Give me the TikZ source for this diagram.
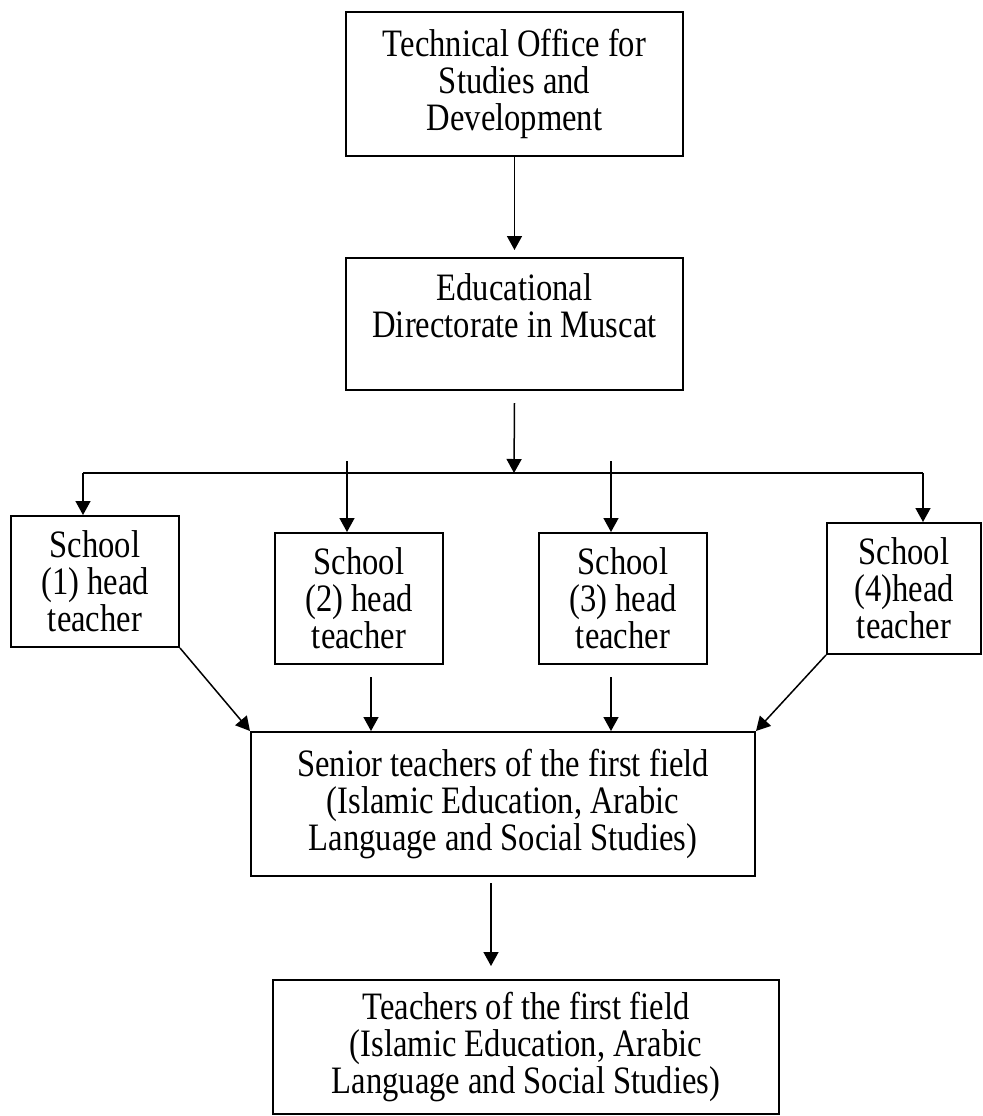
\documentclass[tikz,border=0pt]{standalone}
\usepackage{fontspec}
\setmainfont{Liberation Serif}[FakeStretch=0.84]
\usetikzlibrary{arrows.meta}
\tikzstyle{every path}=[line width=0.75pt]
\tikzstyle{box}=[draw, line width=1pt, align=center, inner sep=0pt,
    font=\fontsize{19.4}{18.5}\selectfont]
\tikzstyle{headbox}=[box, minimum width=84pt, minimum height=65.5pt]
\tikzstyle{arr}=[-{Triangle[length=7pt,width=7.5pt]}]

\begin{document}
\begin{tikzpicture}[x=0.5pt,y=-0.5pt]
            \useasboundingbox (0,0) rectangle (983,1116);

            % top of the chain
            \node[box, minimum width=168.5pt, minimum height=72pt]
                (tech) at (514.5,84) {Technical Office for\\Studies and\\Development};
            \node[box, minimum width=168.5pt, minimum height=66pt]
                (edu) at (514.5,324) {Educational\\Directorate in Muscat\\~};
            \draw[arr, shorten >=3.5pt] (tech) -- (edu);

            % head teachers
            \node[headbox] (school1) at (95,581.5) {School\\(1) head\\teacher};
            \node[headbox] (school2) at (359,598.5) {School\\(2) head\\teacher};
            \node[headbox] (school3) at (623,598.5) {School\\(3) head\\teacher};
            \node[headbox, minimum width=77pt] (school4) at (904,588.5) {School\\(4)head\\teacher};

            \coordinate (hub) at (514,473);
            \coordinate (busL) at (83,473);
            \coordinate (busR) at (923,473);
            \coordinate (tick2) at (347,461);
            \coordinate (tick3) at (611,461);
            \draw[arr] ([yshift=-6pt]edu.south) -- (hub);
            \draw (busL) -- (busR);
            \draw[arr] (busL) -- (busL |- school1.north);
            \draw[arr] (busR) -- (busR |- school4.north);
            \draw[arr] (tick2) -- (tick2 |- school2.north);
            \draw[arr] (tick3) -- (tick3 |- school3.north);

            % senior teachers
            \node[box, minimum width=252pt, minimum height=72pt]
                (senior) at (503,804) {Senior teachers of the first field\\(Islamic Education, Arabic\\Language and Social Studies)};
            \coordinate (down2) at (371,677);
            \coordinate (down3) at (611,677);
            \draw[arr] (school1.south east) -- (senior.north west);
            \draw[arr] (down2) -- (down2 |- senior.north);
            \draw[arr] (down3) -- (down3 |- senior.north);
            \draw[arr] (school4.south west) -- (senior.north east);

            % teachers
            \node[box, minimum width=253pt, minimum height=67pt]
                (teachers) at (526,1047) {Teachers of the first field\\(Islamic Education, Arabic\\Language and Social Studies)};
            \coordinate (down5) at (491,883);
            \coordinate (tip5) at (491,966);
            \draw[arr] (down5) -- (tip5);
\end{tikzpicture}
\end{document}
